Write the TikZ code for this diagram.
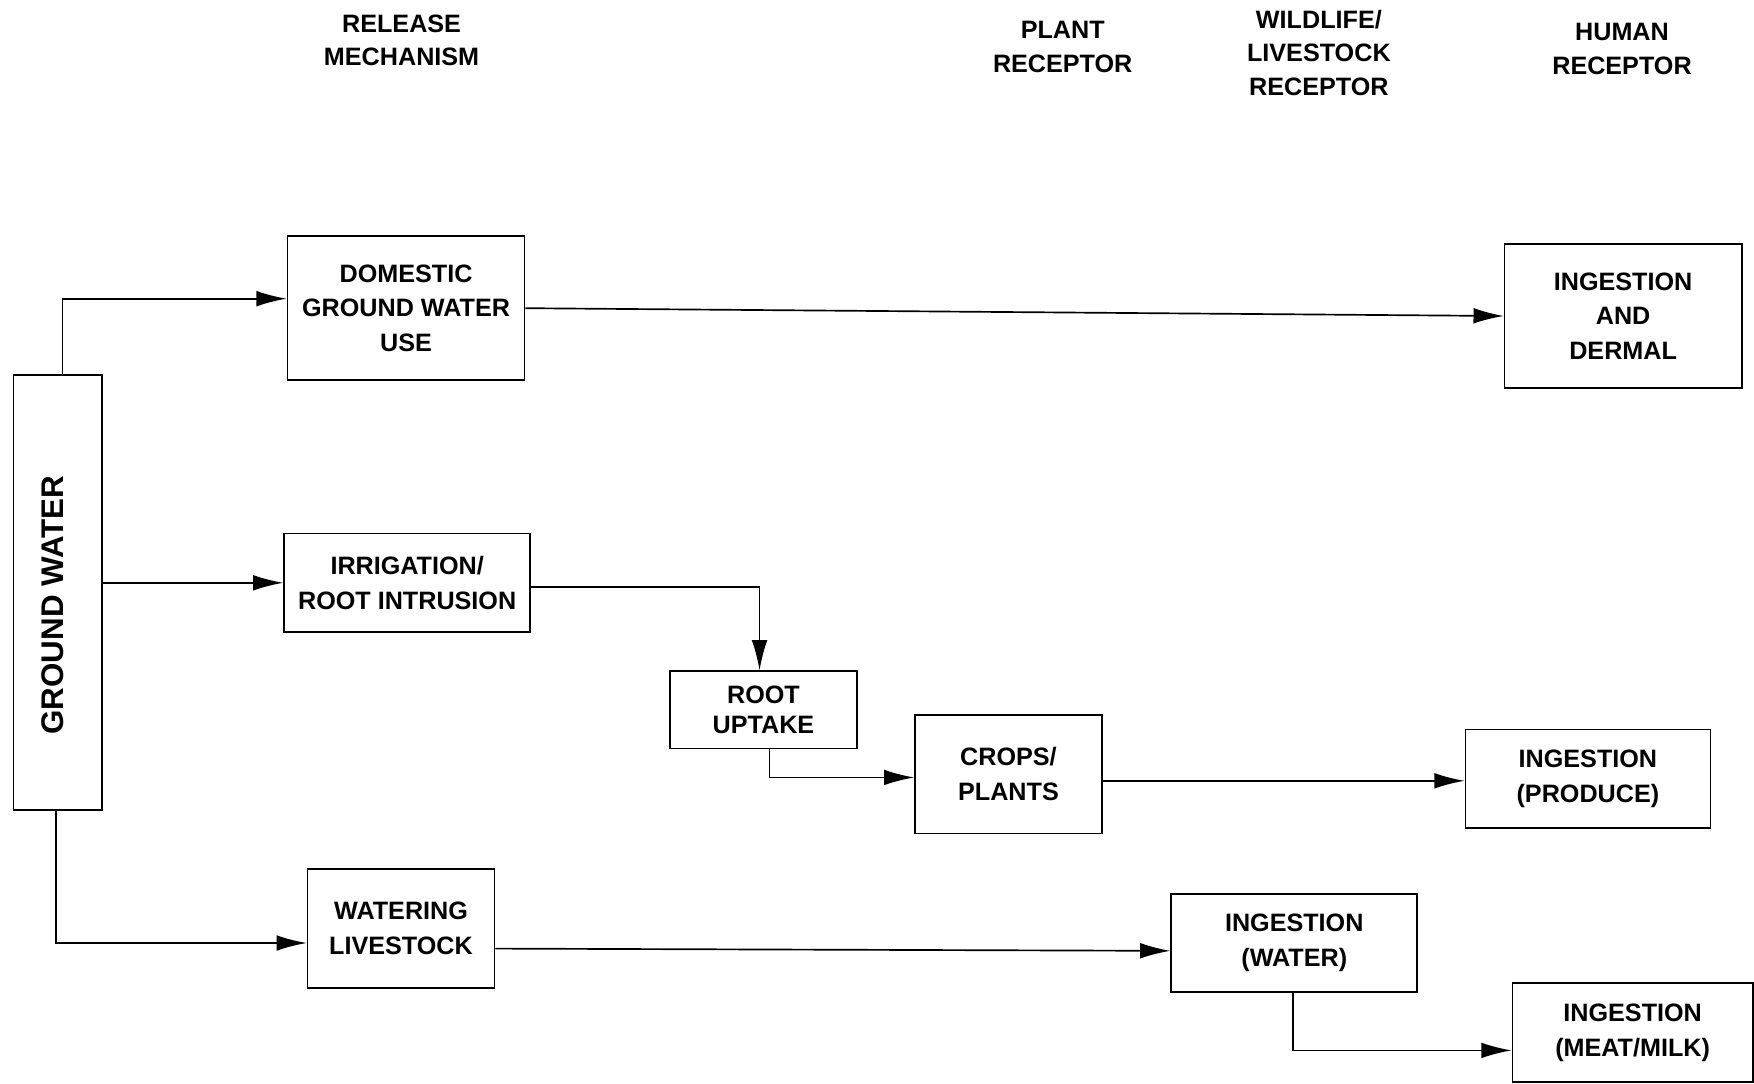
\documentclass[tikz,border=0pt]{standalone}
\usepackage{fontspec}
\setmainfont{Liberation Sans}
\usetikzlibrary{arrows.meta}
\tikzset{
  box/.style={draw, line width=1.5pt, inner sep=0pt, align=center,
    font=\fontsize{22.5}{31}\selectfont\bfseries},
  hdr/.style={inner sep=0pt, align=center,
    font=\fontsize{22.5}{30}\selectfont\bfseries},
  arr/.style={line width=1.5pt, -{Latex[length=27pt,width=14pt]}}
}
\begin{document}
\begin{tikzpicture}[x=1pt,y=-1pt]
\useasboundingbox (0,0) rectangle (1568,969);
% headers
\node[hdr] (h1) at (359,36) {RELEASE\\MECHANISM};
\node[hdr] (h2) at (950,42) {PLANT\\RECEPTOR};
\node[hdr] (h3) at (1179,47) {WILDLIFE/\\LIVESTOCK\\RECEPTOR};
\node[hdr] (h4) at (1450,44) {HUMAN\\RECEPTOR};
% ground water
\node[draw, line width=1.5pt, minimum width=79pt, minimum height=389pt, inner sep=0pt] (gw) at (51.5,529.5) {};
\node[rotate=90, inner sep=0pt, font=\fontsize{28}{30}\selectfont\bfseries] (gwt) at (47,541) {GROUND WATER};
% boxes
\node[box, minimum width=212pt, minimum height=129pt] (dom) at (363,275.5) {DOMESTIC\\GROUND WATER\\USE};
\node[box, minimum width=212pt, minimum height=129pt] (derm) at (1451,282.5) {INGESTION\\AND\\DERMAL};
\node[box, minimum width=220pt, minimum height=88pt] (irr) at (364,521) {IRRIGATION/\\ROOT INTRUSION};
\node[box, minimum width=167pt, minimum height=69pt, font=\fontsize{22.5}{27}\selectfont\bfseries] (root) at (682.5,634.5) {ROOT\\UPTAKE};
\node[box, minimum width=167pt, minimum height=106pt] (crops) at (901.5,692) {CROPS/\\PLANTS};
\node[box, minimum width=219pt, minimum height=88pt] (prod) at (1419.5,696) {INGESTION\\(PRODUCE)};
\node[box, minimum width=167pt, minimum height=106pt] (water) at (358.5,830) {WATERING\\LIVESTOCK};
\node[box, minimum width=220pt, minimum height=88pt] (ingw) at (1157,843) {INGESTION\\(WATER)};
\node[box, minimum width=215pt, minimum height=88pt] (meat) at (1459.5,923) {INGESTION\\(MEAT/MILK)};
% connectors
\draw[arr] ([xshift=4.5pt]gw.north) |- ([yshift=8.5pt]dom.west);
\draw[arr] (dom.east) -- (derm.west);
\draw[arr] (gw.east |- irr.west) -- (irr.west);
\draw[arr] ([yshift=-4pt]irr.east) -| ([xshift=-3.5pt]root.north);
\draw[arr] ([xshift=5.5pt]root.south) |- ([yshift=-3pt]crops.west);
\draw[arr] ([yshift=-6pt]crops.east) -- ([yshift=-2pt]prod.west);
\draw[arr] ([xshift=-1.5pt]gw.south) |- ([yshift=-13pt]water.west);
\draw[arr] ([yshift=-18pt]water.east) -- ([yshift=-7pt]ingw.west);
\draw[arr] ([xshift=-1pt]ingw.south) |- ([yshift=-16pt]meat.west);
\end{tikzpicture}
\end{document}
